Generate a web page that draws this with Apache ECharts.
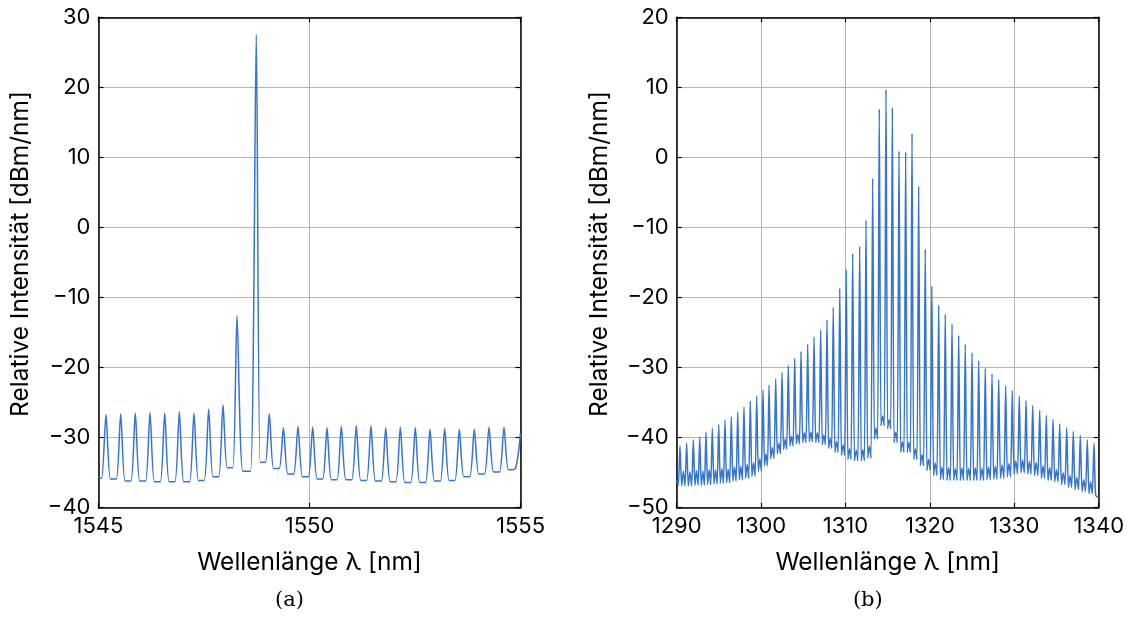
<!DOCTYPE html>
<html>
<head>
<meta charset="utf-8">
<script src="https://cdn.jsdelivr.net/npm/echarts@6/dist/echarts.min.js"></script>
<style>
  html, body { margin: 0; padding: 0; background: #fff; }
  #chart { width: 1130px; height: 618px; }
</style>
</head>
<body>
<div id="chart"></div>
<script>
// ---------- Panel (a): 1545–1555 nm ----------
const leftXTicks = [1545, 1550, 1555];
const leftYTicks = [-40, -30, -20, -10, 0, 10, 20, 30];

// resonance peaks: wavelength [nm] and level [dBm/nm]
const leftPeakNm = [1545.178, 1545.526, 1545.872, 1546.220, 1546.569, 1546.915, 1547.263,
  1547.611, 1547.950, 1548.282, 1548.739, 1549.047, 1549.382, 1549.728, 1550.076, 1550.415,
  1550.754, 1551.109, 1551.457, 1551.806, 1552.152, 1552.507, 1552.855, 1553.204, 1553.550,
  1553.905, 1554.254, 1554.609];
const leftPeakDb = [-26.7, -26.6, -26.5, -26.4, -26.5, -26.3, -26.5, -25.9, -25.3, -12.6,
  27.5, -26.6, -28.6, -28.4, -28.5, -28.6, -28.4, -28.3, -28.3, -28.6, -28.5, -28.6, -28.8,
  -28.7, -28.8, -28.8, -28.5, -28.5];
// floor level between neighbouring peaks
const leftValleyDb = [-35.9, -36.2, -36.2, -36.3, -36.3, -36.3, -36.1, -35.6, -34.3, -34.8,
  -33.5, -34.4, -35.2, -35.6, -35.9, -36.0, -36.0, -36.1, -36.2, -36.3, -36.4, -36.4, -36.2,
  -36.1, -35.6, -35.2, -34.9];
// trace ends at the window borders
const leftLeadIn = [[1545.0, -35.6], [1545.074, -35.8]];
const leftLeadOut = [[1554.716, -34.6], [1554.88, -34.4], [1555.0, -29.4]];

// ---------- Panel (b): 1290–1340 nm ----------
const rightXTicks = [1290, 1300, 1310, 1320, 1330, 1340];
const rightYTicks = [-50, -40, -30, -20, -10, 0, 10, 20];

const rightPeakNm = [1290.39, 1291.18, 1291.97, 1292.73, 1293.47, 1294.22, 1294.98, 1295.72,
  1296.47, 1297.23, 1297.97, 1298.72, 1299.48, 1300.23, 1300.94, 1301.73, 1302.48, 1303.22,
  1303.98, 1304.73, 1305.52, 1306.27, 1307.06, 1307.81, 1308.55, 1309.32, 1310.09, 1310.85,
  1311.68, 1312.43, 1313.22, 1314.00, 1314.80, 1315.55, 1316.34, 1317.13, 1317.88, 1318.67,
  1319.45, 1320.23, 1321.04, 1321.82, 1322.62, 1323.41, 1324.19, 1324.99, 1325.78, 1326.56,
  1327.36, 1328.15, 1328.98, 1329.76, 1330.59, 1331.39, 1332.18, 1333.01, 1333.79, 1334.59,
  1335.38, 1336.21, 1336.99, 1337.82, 1338.65, 1339.44];
const rightPeakDb = [-41.2, -40.8, -40.3, -39.9, -39.2, -38.7, -38.1, -37.5, -37.0, -36.3,
  -35.6, -34.8, -34.1, -33.2, -32.5, -31.6, -30.7, -29.7, -28.7, -27.7, -26.7, -25.6, -24.6,
  -23.2, -21.4, -18.7, -16.0, -13.7, -12.7, -9.0, -3.0, 6.9, 9.7, 7.1, 0.9, 0.8, 3.4, -4.1,
  -13.1, -18.4, -21.1, -22.4, -23.8, -25.4, -26.7, -27.9, -29.0, -30.1, -30.9, -31.7, -32.6,
  -33.3, -34.1, -34.7, -35.4, -36.1, -36.8, -37.4, -38.0, -38.6, -39.1, -39.7, -40.3, -40.8];
// floor between peaks and the weak secondary ripple in each gap
const rightValleyDb = [-46.9, -46.9, -46.8, -46.8, -46.7, -46.6, -46.5, -46.4, -46.2, -46.0,
  -45.8, -45.5, -44.8, -44.0, -43.0, -42.3, -41.7, -41.2, -40.9, -40.7, -40.6, -40.7, -41.0,
  -41.5, -42.1, -42.5, -43.1, -43.3, -43.3, -42.9, -40.2, -38.3, -38.7, -40.7, -42.1, -42.1,
  -43.1, -44.0, -44.7, -45.4, -46.0, -46.1, -46.1, -46.1, -46.1, -46.1, -46.1, -46.0, -45.9,
  -45.8, -45.6, -45.2, -45.0, -45.2, -45.4, -45.8, -46.1, -46.3, -46.7, -47.1, -47.4, -47.7,
  -48.0];
const rightBumpDb = [-44.8, -44.9, -44.7, -44.8, -44.6, -44.6, -44.4, -44.5, -44.2, -44.1,
  -43.8, -43.6, -43.0, -42.3, -41.4, -40.8, -40.2, -39.8, -39.5, -39.3, -39.2, -39.3, -39.6,
  -40.1, -40.6, -41.0, -41.6, -41.8, -41.7, -41.2, -38.6, -36.9, -37.4, -39.2, -40.6, -40.7,
  -41.6, -42.4, -43.1, -43.6, -44.2, -44.3, -44.4, -44.3, -44.4, -44.3, -44.4, -44.2, -44.1,
  -43.9, -43.7, -43.3, -43.2, -43.4, -43.6, -44.0, -44.3, -44.6, -45.0, -45.4, -45.7, -46.0,
  -46.3];
const rightLeadIn = [[1290.0, -46.2], [1290.19, -46.8]];
const rightLeadOut = [[1339.64, -48.2], [1340.0, -48.6]];

// ---------- trace assembly ----------
// gapShape: list of [fraction of peak spacing, level array]
function buildTrace(leadIn, peakNm, peakDb, gapShape, leadOut) {
  const pts = leadIn.slice();
  for (let i = 0; i < peakNm.length; i++) {
    pts.push([peakNm[i], peakDb[i]]);
    if (i < peakNm.length - 1) {
      const d = peakNm[i + 1] - peakNm[i];
      gapShape.forEach(([f, levels]) => pts.push([peakNm[i] + f * d, levels[i]]));
    }
  }
  return pts.concat(leadOut);
}

const leftTrace = buildTrace(leftLeadIn, leftPeakNm, leftPeakDb,
  [[0.3, leftValleyDb], [0.7, leftValleyDb]], leftLeadOut);
const rightTrace = buildTrace(rightLeadIn, rightPeakNm, rightPeakDb,
  [[0.25, rightValleyDb], [0.5, rightBumpDb], [0.75, rightValleyDb]], rightLeadOut);

// ---------- styling ----------
const SANS = 'Inter, "Liberation Sans", Arial, sans-serif';
const TRACE_COLOR = '#3574d0';
const minus = v => String(v).replace('-', '\u2212');
const boxLine = { show: true, onZero: false, lineStyle: { color: '#000', width: 1.5 } };
const boxTick = { show: true, inside: true, length: 5, lineStyle: { color: '#000', width: 1.2 } };
const gridLine = { show: true, lineStyle: { color: '#b4b4b4', width: 1 } };
const tickFont = { fontFamily: SANS, fontSize: 22, color: '#000' };

function range(ticks) {
  return { min: ticks[0], max: ticks[ticks.length - 1], interval: ticks[1] - ticks[0] };
}
function xPair(gridIndex, ticks) {
  const base = Object.assign({ type: 'value', gridIndex }, range(ticks));
  return [
    Object.assign({}, base, { position: 'bottom', axisLine: boxLine, axisTick: boxTick,
      axisLabel: Object.assign({ margin: 8, formatter: minus }, tickFont), splitLine: gridLine }),
    Object.assign({}, base, { position: 'top', axisLine: boxLine, axisTick: boxTick,
      axisLabel: { show: false }, splitLine: { show: false } })
  ];
}
function yPair(gridIndex, ticks) {
  const base = Object.assign({ type: 'value', gridIndex }, range(ticks));
  return [
    Object.assign({}, base, { position: 'left', axisLine: boxLine, axisTick: boxTick,
      axisLabel: Object.assign({ margin: 8, formatter: minus }, tickFont), splitLine: gridLine }),
    Object.assign({}, base, { position: 'right', axisLine: boxLine, axisTick: boxTick,
      axisLabel: { show: false }, splitLine: { show: false } })
  ];
}

const PLOT = { top: 17.3, width: 422, height: 490.4 };
const LEFT_X0 = 98.5, RIGHT_X0 = 676.7;

function label(text, x, y, font, extra) {
  return Object.assign({
    type: 'text', x, y, silent: true,
    style: { text, fill: '#000', font, align: 'center', verticalAlign: 'middle' }
  }, extra || {});
}
const TITLE_FONT = '24.5px ' + SANS;
const CAPTION_FONT = '21px "DejaVu Serif", serif';

const chart = echarts.init(document.getElementById('chart'), null, { renderer: 'canvas' });
chart.setOption({
  animation: false,
  backgroundColor: '#fff',
  grid: [
    Object.assign({ left: LEFT_X0 }, PLOT),
    Object.assign({ left: RIGHT_X0 }, PLOT)
  ],
  xAxis: xPair(0, leftXTicks).concat(xPair(1, rightXTicks)),
  yAxis: yPair(0, leftYTicks).concat(yPair(1, rightYTicks)),
  series: [
    { type: 'line', xAxisIndex: 0, yAxisIndex: 0, data: leftTrace, symbol: 'none',
      smooth: 0.25, clip: true, silent: true,
      lineStyle: { color: TRACE_COLOR, width: 1.5 } },
    { type: 'line', xAxisIndex: 2, yAxisIndex: 2, data: rightTrace, symbol: 'none',
      smooth: 0.2, clip: true, silent: true,
      lineStyle: { color: TRACE_COLOR, width: 1.5 } }
  ],
  graphic: [
    label('Wellenlänge \u03bb [nm]', LEFT_X0 + PLOT.width / 2, 563, TITLE_FONT),
    label('Wellenlänge \u03bb [nm]', RIGHT_X0 + PLOT.width / 2, 563, TITLE_FONT),
    label('Relative Intensität [dBm/nm]', 21, 254, TITLE_FONT, { rotation: Math.PI / 2 }),
    label('Relative Intensität [dBm/nm]', 600, 254, TITLE_FONT, { rotation: Math.PI / 2 }),
    label('(a)', 289.5, 601, CAPTION_FONT),
    label('(b)', 867.8, 601, CAPTION_FONT)
  ]
});
</script>
</body>
</html>
